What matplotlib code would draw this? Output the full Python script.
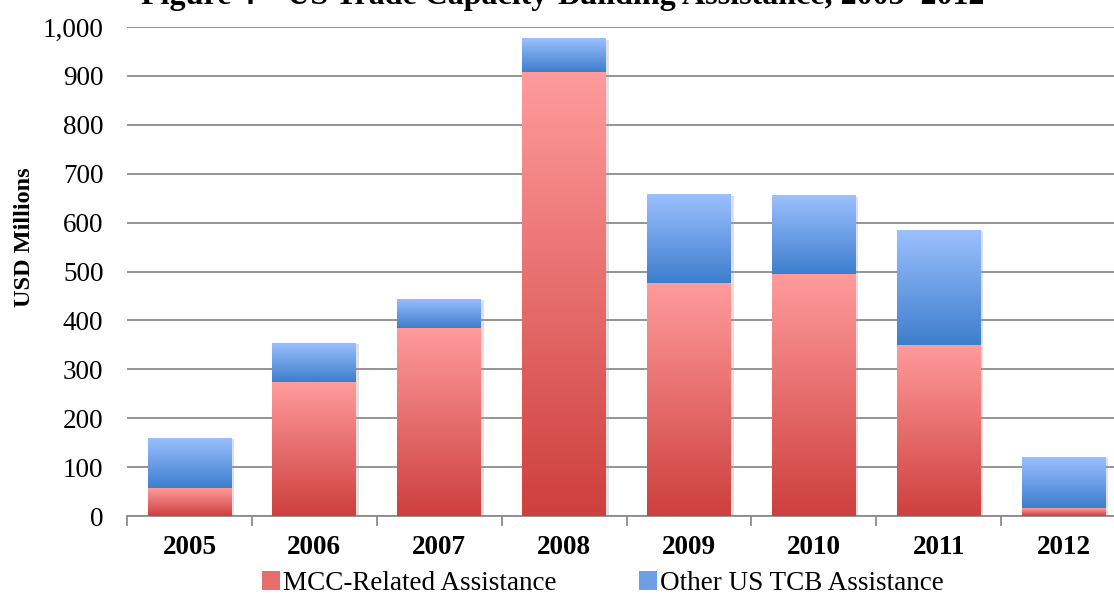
import numpy as np
import matplotlib
matplotlib.use('Agg')
import matplotlib.pyplot as plt
from matplotlib.patches import Patch
from matplotlib.ticker import FuncFormatter, MultipleLocator
import matplotlib.patheffects as pe

years = ['2005', '2006', '2007', '2008', '2009', '2010', '2011', '2012']
mcc = [57, 274, 384, 908, 476, 495, 350, 16]
other = [103, 80, 60, 69, 182, 161, 235, 105]

plt.rcParams['font.family'] = ['Liberation Serif', 'DejaVu Serif']
FS = 19.5

fig = plt.figure(figsize=(11.14, 5.96), dpi=100)
ax = fig.add_axes([127 / 1114, 80 / 596, 999 / 1114, 489 / 596])

red_top, red_bot = np.array([255, 155, 155]) / 255, np.array([205, 64, 62]) / 255
blue_top, blue_bot = np.array([155, 192, 255]) / 255, np.array([62, 126, 205]) / 255


def grad(top, bot):
    t = np.linspace(0, 1, 64)[:, None]
    return (top[None, :] * (1 - t) + bot[None, :] * t)[:, None, :]


x = np.arange(len(years))
w = 0.67
shadow = [pe.SimplePatchShadow(offset=(2, -1), shadow_rgbFace='#999999', alpha=0.3), pe.Normal()]
b1 = ax.bar(x, mcc, width=w, color='none', zorder=3)
b2 = ax.bar(x, other, width=w, bottom=mcc, color='none', zorder=3)
for bars, cols in ((b1, (red_top, red_bot)), (b2, (blue_top, blue_bot))):
    for r in bars:
        x0, y0 = r.get_x(), r.get_y()
        ww, hh = r.get_width(), r.get_height()
        bg = plt.Rectangle((x0, y0), ww, hh, facecolor='white', edgecolor='none',
                           zorder=2, path_effects=shadow)
        ax.add_patch(bg)
        im = ax.imshow(grad(*cols), extent=(x0, x0 + ww, y0, y0 + hh), aspect='auto',
                       zorder=3, interpolation='bilinear')
        im.set_clip_path(r)

ax.set_xlim(-0.5, 7.5)
ax.set_ylim(0, 1000)
ax.yaxis.set_major_locator(MultipleLocator(100))
ax.yaxis.set_major_formatter(FuncFormatter(lambda v, p: f'{int(v):,}'))
ax.yaxis.grid(True, color='#8c8c8c', linewidth=1.3, zorder=1)
ax.set_axisbelow(True)
ax.tick_params(axis='y', length=0, pad=17, labelsize=FS)
ax.set_xticks(x)
ax.set_xticklabels(years, fontweight='bold', fontsize=FS)
ax.set_xticks(np.arange(-0.5, 8, 1), minor=True)
ax.tick_params(axis='x', which='major', length=0, pad=14)
ax.tick_params(axis='x', which='minor', length=7, color='#8c8c8c', width=1.3)
for s in ('left', 'top', 'right'):
    ax.spines[s].set_visible(False)
ax.spines['bottom'].set_color('#8c8c8c')
ax.spines['bottom'].set_linewidth(1.3)
ax.set_ylabel('USD Millions', fontweight='bold', fontsize=17.5)
ax.yaxis.set_label_coords(-92 / 999, 0.57)

fig.text(0.505, 1 - 4 / 596, 'Figure 4 \u2013 US Trade Capacity-Building Assistance, 2005\u20132012',
         ha='center', va='baseline', fontsize=23, fontweight='bold')

handles = [Patch(facecolor=(red_top + red_bot) / 2), Patch(facecolor=(blue_top + blue_bot) / 2)]
fig.legend(handles, ['MCC-Related Assistance', 'Other US TCB Assistance'],
           loc='center', bbox_to_anchor=(0.541, 0.021), ncol=2, frameon=False,
           fontsize=FS, handlelength=0.67, handleheight=0.67, handletextpad=0.1,
           columnspacing=3.05, borderpad=0)

fig.savefig('out.png', dpi=100)
